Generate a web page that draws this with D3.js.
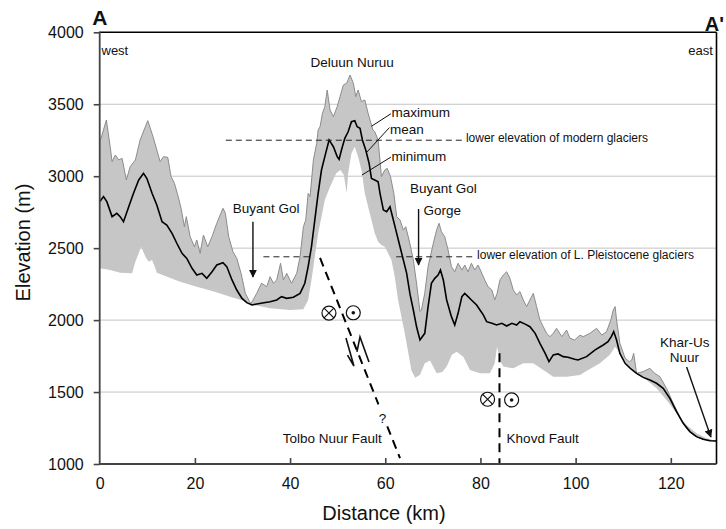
<!DOCTYPE html>
<html>
<head>
<meta charset="utf-8">
<script src="https://cdn.jsdelivr.net/npm/d3@7"></script>
<style>
  body { margin: 0; background: #fff; }
  svg text { font-family: "Liberation Sans", Arial, sans-serif; fill: #111; }
</style>
</head>
<body>
<div id="chart"></div>
<script>
// swath profile A - A' : distance (km), elevation (m)
const maxProfile = [
  [0,3252],[0.3,3265],[1.4,3390],[2.2,3205],[2.6,3101],[3.3,3147],[4.0,3113],[4.7,3124],
  [5.6,2974],[6.4,3066],[7.5,3113],[8.5,3252],[10.1,3386],[11.2,3275],[12.0,3182],[12.7,3101],
  [13.4,3136],[14.3,3131],[15.0,2997],[15.7,2951],[16.4,2869],[17.1,2777],[17.8,2649],[18.2,2719],
  [19.0,2580],[19.9,2510],[20.4,2557],[21.1,2464],[21.8,2591],[22.7,2510],[23.6,2580],[24.6,2673],
  [25.9,2777],[26.4,2742],[27.1,2580],[28.0,2475],[28.8,2429],[29.7,2325],[30.6,2186],[31.5,2128],
  [31.8,2115],[33.0,2186],[34.0,2256],[35.1,2232],[35.8,2302],[36.5,2256],[37.2,2279],[38.0,2395],
  [38.6,2279],[39.3,2325],[40.3,2256],[41.4,2325],[42.1,2441],[42.8,2649],[43.3,2696],[43.8,2881],
  [44.2,2858],[44.9,3113],[45.6,3229],[45.9,3321],[46.3,3344],[46.8,3437],[47.3,3483],[47.8,3599],
  [48.4,3460],[49.1,3414],[49.9,3483],[50.5,3553],[51.2,3634],[51.9,3646],[52.6,3703],[53.3,3646],
  [53.8,3553],[54.3,3599],[55.0,3518],[55.7,3530],[56.4,3437],[57.4,3321],[57.8,3309],[58.5,3252],
  [59.2,2997],[59.9,3043],[60.4,3055],[61.1,2997],[61.8,2881],[62.4,2719],[63.1,2696],[63.8,2626],
  [64.3,2649],[65.0,2557],[65.9,2420],[66.6,2250],[67.3,2060],[67.6,2070],[68.3,2186],[69.0,2372],
  [70.1,2534],[70.8,2626],[71.3,2673],[71.8,2614],[72.5,2580],[73.2,2487],[73.9,2372],[74.6,2336],
  [75.3,2395],[76.1,2348],[76.7,2383],[77.4,2336],[78.1,2395],[78.8,2348],[79.5,2383],[80.3,2325],
  [80.9,2279],[81.6,2232],[82.4,2209],[83.0,2140],[83.5,2186],[84.1,2279],[84.8,2313],[85.5,2336],
  [86.2,2290],[86.9,2209],[87.6,2175],[88.3,2198],[89.0,2140],[89.7,2094],[90.4,2140],[91.1,2186],
  [91.8,2094],[92.5,2001],[93.2,1954],[93.9,1908],[94.6,1885],[95.3,1908],[96.0,1943],[97.1,1885],
  [98.1,1931],[98.8,1874],[99.8,1862],[100.9,1895],[101.6,1885],[103.0,1908],[104.4,1943],[105.5,1896],
  [106.5,1920],[107.4,2001],[107.9,2070],[108.3,2094],[108.6,2001],[109.3,1839],[110.4,1735],[111.3,1711],
  [111.8,1723],[112.2,1769],[112.8,1630],[114.2,1642],[115.6,1665],[116.6,1630],[117.7,1607],[119.1,1526],
  [120.5,1422],[121.9,1329],[123.3,1248],[124.7,1202],[126.1,1179],[127.5,1167],[129.6,1160]
];
const meanProfile = [
  [0,2823],[0.8,2858],[1.5,2823],[2.6,2719],[3.6,2742],[4.3,2719],[5.0,2684],[6.1,2788],
  [7.1,2881],[8.2,2974],[9.2,3020],[9.9,2985],[11.0,2881],[12.0,2800],[13.1,2684],[14.1,2661],
  [15.2,2603],[16.2,2534],[17.3,2464],[18.3,2429],[19.4,2360],[20.4,2313],[21.5,2325],[22.5,2290],
  [23.6,2336],[24.6,2383],[25.9,2399],[26.7,2372],[27.8,2279],[28.8,2209],[29.9,2151],[30.9,2121],
  [32.0,2105],[33.0,2112],[34.5,2121],[35.8,2128],[37.2,2140],[38.2,2163],[39.3,2151],[40.7,2159],
  [42.1,2186],[43.1,2256],[43.8,2372],[44.5,2510],[45.2,2696],[45.9,2881],[46.6,3043],[47.3,3136],
  [48.2,3252],[49.1,3205],[49.9,3136],[50.3,3117],[50.8,3182],[51.5,3263],[52.2,3309],[52.9,3379],
  [53.6,3386],[54.1,3344],[54.7,3333],[55.2,3252],[55.9,3182],[56.6,3090],[57.1,2985],[57.8,2974],
  [58.5,2962],[58.9,2881],[59.6,2765],[60.3,2753],[61.0,2788],[61.7,2696],[62.4,2603],[63.1,2510],
  [63.8,2418],[64.5,2325],[65.2,2180],[65.9,2070],[66.6,1950],[67.3,1862],[68.3,1908],[69.0,2094],
  [69.7,2256],[70.4,2290],[71.1,2313],[71.6,2348],[72.2,2279],[72.9,2140],[73.9,2024],[74.6,1966],
  [75.3,2047],[76.1,2163],[76.7,2186],[77.4,2163],[78.1,2140],[79.2,2105],[79.9,2070],[80.6,2036],
  [81.3,1989],[82.4,1978],[83.4,1966],[84.5,1978],[85.5,1959],[86.6,1978],[87.6,1966],[88.3,1989],
  [89.4,1972],[90.4,1954],[91.5,1908],[92.5,1839],[93.6,1769],[94.4,1711],[95.3,1758],[96.3,1765],
  [97.4,1746],[98.4,1742],[99.8,1728],[100.5,1723],[102.3,1746],[104.1,1793],[105.8,1827],[106.8,1850],
  [107.5,1885],[108.0,1920],[108.6,1862],[109.3,1769],[110.4,1700],[111.5,1665],[112.8,1630],[114.2,1602],
  [115.6,1584],[117.0,1561],[118.4,1526],[119.8,1456],[121.2,1364],[122.6,1283],[124.0,1225],[125.4,1190],
  [126.8,1172],[128.2,1162],[129.6,1160]
];
const minProfile = [
  [0,2360],[2.2,2348],[4.3,2329],[6.8,2325],[7.5,2406],[8.2,2464],[8.7,2510],[9.6,2441],
  [10.3,2406],[11.0,2418],[11.7,2360],[12.0,2329],[16.9,2267],[20.4,2232],[24.0,2198],[27.4,2163],
  [30.3,2135],[31.8,2110],[35.8,2082],[40.0,2070],[42.8,2075],[43.8,2140],[44.5,2279],[45.2,2441],
  [45.9,2603],[46.6,2719],[47.3,2835],[48.4,2927],[49.7,3020],[50.6,3043],[51.3,3008],[51.9,2881],
  [52.2,3020],[52.9,3159],[53.6,3205],[54.3,3136],[55.0,3043],[55.7,2881],[56.4,2788],[57.1,2696],
  [57.8,2603],[58.5,2545],[59.2,2522],[59.9,2510],[60.6,2464],[61.3,2418],[62.0,2302],[62.7,2140],
  [63.4,2024],[64.1,1908],[64.8,1780],[65.5,1650],[66.3,1600],[67.3,1620],[68.3,1700],[69.4,1720],
  [70.8,1630],[72.0,1640],[72.9,1677],[74.0,1760],[75.0,1780],[76.4,1746],[77.8,1654],[79.9,1630],
  [82.0,1630],[83.0,1700],[83.5,1815],[84.1,1720],[84.8,1677],[86.9,1665],[89.0,1700],[91.1,1700],
  [93.2,1654],[95.3,1607],[98.1,1607],[100.9,1619],[103.0,1660],[105.1,1700],[107.2,1760],[108.3,1815],
  [109.3,1769],[110.7,1700],[112.8,1630],[114.9,1584],[117.0,1526],[119.1,1445],[121.2,1352],[123.3,1271],
  [125.4,1213],[127.5,1179],[129.6,1160]
];
const xTicks = [0, 20, 40, 60, 80, 100, 120];
const yTicks = [1000, 1500, 2000, 2500, 3000, 3500, 4000];
const gridElevs = [1500, 2000, 2500, 3000, 3500];

// glacier limits: elevation (m), dashed spans (km)
const modernGlacierElev = 3250;
const modernGlacierSpans = [[26.5, 76.6]];
const pleistoceneGlacierElev = 2440;
const pleistoceneGlacierSpans = [[34.4, 44.0], [62.3, 78.8]];

// faults: dashed traces [km, m]
const tolboFault = [[[46.3, 2432], [58.57, 1415]], [[60.42, 1262], [63.1, 1040]]];
const khovdFault = [[[84.0, 1770], [84.0, 1000]]];

const width = 726, height = 529;
const svg = d3.select("#chart").append("svg")
  .attr("width", width)
  .attr("height", height);

const x = d3.scaleLinear().domain([0, 129.6]).range([99.7, 716.5]);
const y = d3.scaleLinear().domain([1000, 4000]).range([464, 32.3]);

const defs = svg.append("defs");
defs.append("marker")
  .attr("id", "head")
  .attr("viewBox", "0 0 10 10")
  .attr("refX", 9).attr("refY", 5)
  .attr("markerWidth", 8).attr("markerHeight", 8)
  .attr("markerUnits", "userSpaceOnUse")
  .attr("orient", "auto")
  .append("path")
  .attr("d", "M0,0 L10,5 L0,10 Z")
  .attr("fill", "#111");

// gridlines
svg.append("g").selectAll("line")
  .data(gridElevs)
  .enter().append("line")
  .attr("x1", x(0)).attr("x2", x(129.6))
  .attr("y1", d => y(d)).attr("y2", d => y(d))
  .attr("stroke", "#c4c4c4")
  .attr("stroke-width", 1);

const line = d3.line().x(d => x(d[0])).y(d => y(d[1]));

// min-max envelope
const envelope = maxProfile.concat(minProfile.slice().reverse());
svg.append("path")
  .attr("d", line(envelope) + "Z")
  .attr("fill", "#c6c6c6");

svg.append("path")
  .attr("d", line(maxProfile))
  .attr("fill", "none")
  .attr("stroke", "#8c8c8c")
  .attr("stroke-width", 1);

svg.append("path")
  .attr("d", line(meanProfile))
  .attr("fill", "none")
  .attr("stroke", "#000")
  .attr("stroke-width", 1.6);

// glacier level dashes
function dashed(spans, elev) {
  svg.append("g").selectAll("line")
    .data(spans)
    .enter().append("line")
    .attr("x1", d => x(d[0])).attr("x2", d => x(d[1]))
    .attr("y1", y(elev)).attr("y2", y(elev))
    .attr("stroke", "#222")
    .attr("stroke-width", 1)
    .attr("stroke-dasharray", "6,4");
}
dashed(modernGlacierSpans, modernGlacierElev);
dashed(pleistoceneGlacierSpans, pleistoceneGlacierElev);

// fault traces
function fault(segs) {
  svg.append("g").selectAll("line")
    .data(segs)
    .enter().append("line")
    .attr("x1", d => x(d[0][0])).attr("y1", d => y(d[0][1]))
    .attr("x2", d => x(d[1][0])).attr("y2", d => y(d[1][1]))
    .attr("stroke", "#000")
    .attr("stroke-width", 2)
    .attr("stroke-dasharray", "9,6");
}
fault(tolboFault);
fault(khovdFault);

// axes
const yAxis = svg.append("g")
  .attr("transform", `translate(${x(0)},0)`)
  .call(d3.axisLeft(y).tickValues(yTicks).tickFormat(d3.format("d")).tickSize(6).tickPadding(10));
const xAxis = svg.append("g")
  .attr("transform", `translate(0,${y(1000)})`)
  .call(d3.axisBottom(x).tickValues(xTicks).tickFormat(d3.format("d")).tickSize(-6).tickPadding(13.6));
[yAxis, xAxis].forEach(g => {
  g.select(".domain").remove();
  g.selectAll(".tick line").attr("stroke", "#444").attr("stroke-width", 1.6);
  g.selectAll(".tick text").attr("font-size", 16).attr("fill", "#111")
    .style("font-family", '"Liberation Sans", Arial, sans-serif');
});
xAxis.select(".tick line").remove();

// frame
svg.append("line").attr("x1", x(0)).attr("x2", x(129.6)).attr("y1", y(4000)).attr("y2", y(4000))
  .attr("stroke", "#000").attr("stroke-width", 1.4);
svg.append("line").attr("x1", x(129.6)).attr("x2", x(129.6)).attr("y1", y(4000)).attr("y2", y(1000))
  .attr("stroke", "#000").attr("stroke-width", 1.6);
svg.append("line").attr("x1", x(0)).attr("x2", x(0)).attr("y1", y(4000) - 0.7).attr("y2", y(1000) + 1)
  .attr("stroke", "#444").attr("stroke-width", 1.8);
svg.append("line").attr("x1", x(0)).attr("x2", x(129.6)).attr("y1", y(1000)).attr("y2", y(1000))
  .attr("stroke", "#444").attr("stroke-width", 1.8);

// axis titles
svg.append("text")
  .attr("x", 384).attr("y", 520)
  .attr("text-anchor", "middle")
  .attr("font-size", 20)
  .text("Distance (km)");
svg.append("text")
  .attr("transform", `translate(30,242.5) rotate(-90)`)
  .attr("text-anchor", "middle")
  .attr("font-size", 20)
  .text("Elevation (m)");

// section ends
svg.append("text").attr("x", x(0) - 7.5).attr("y", 25)
  .attr("font-size", 21).attr("font-weight", "bold").text("A");
svg.append("text").attr("x", 724).attr("y", 31)
  .attr("text-anchor", "end")
  .attr("font-size", 20).attr("font-weight", "bold").text("A'");

// labels
function label(km, m, txt, size, anchor) {
  svg.append("text")
    .attr("x", x(km)).attr("y", y(m))
    .attr("font-size", size)
    .attr("text-anchor", anchor || "start")
    .text(txt);
}
label(0.38, 3842, "west", 13);
label(128.85, 3842, "east", 13, "end");
label(53.06, 3759, "Deluun Nuruu", 13.5, "middle");
label(61.3, 3408, "maximum", 13.5);
label(61.0, 3293, "mean", 13.5);
label(61.3, 3106, "minimum", 13.5);
label(76.95, 3236, "lower elevation of modern glaciers", 12);
label(79.3, 2428, "lower elevation of L. Pleistocene glaciers", 12);
label(34.95, 2744, "Buyant Gol", 13.5, "middle");
label(72.2, 2883, "Buyant Gol", 13.5, "middle");
label(72.0, 2730, "Gorge", 13.5, "middle");
label(38.45, 1146, "Tolbo Nuur Fault", 13.5);
label(85.5, 1146, "Khovd Fault", 13.5);
label(59.4, 1282, "?", 13.5, "middle");
label(122.94, 1815, "Khar-Us", 13.5, "middle");
label(122.85, 1711, "Nuur", 13.5, "middle");

// leader lines to the curves
const leaders = [
  [[61.2, 3434], [57.1, 3347]],
  [[60.88, 3338], [56.16, 3168]],
  [[61.2, 3133], [55.1, 3008]]
];
svg.append("g").selectAll("line")
  .data(leaders)
  .enter().append("line")
  .attr("x1", d => x(d[0][0])).attr("y1", d => y(d[0][1]))
  .attr("x2", d => x(d[1][0])).attr("y2", d => y(d[1][1]))
  .attr("stroke", "#111").attr("stroke-width", 1);

// arrows
const arrows = [
  [[32.2, 2684], [32.2, 2300]],
  [[67.0, 2772], [67.0, 2383]],
  [[123.32, 1674], [128.42, 1188]]
];
svg.append("g").selectAll("line")
  .data(arrows)
  .enter().append("line")
  .attr("x1", d => x(d[0][0])).attr("y1", d => y(d[0][1]))
  .attr("x2", d => x(d[1][0])).attr("y2", d => y(d[1][1]))
  .attr("stroke", "#111").attr("stroke-width", 1.4)
  .attr("marker-end", "url(#head)");

// half arrows for fault motion: start, tip, barb
const halfArrows = [
  [[51.74, 1876], [53.42, 1681], [52.06, 1757]],
  [[56.58, 1709], [54.69, 1883], [54.05, 1779]]
];
svg.append("g").selectAll("path")
  .data(halfArrows)
  .enter().append("path")
  .attr("d", d => line(d))
  .attr("fill", "none")
  .attr("stroke", "#111").attr("stroke-width", 1.6);

// strike-slip symbols: into (x) and out of (dot) the page
const intoPage = [[48.17, 2049], [81.5, 1450]];
const outOfPage = [[53.28, 2051], [86.55, 1445]];
const r = 7;
const into = svg.append("g").selectAll("g").data(intoPage).enter().append("g")
  .attr("transform", d => `translate(${x(d[0])},${y(d[1])})`);
into.append("circle").attr("r", r).attr("fill", "#fff").attr("stroke", "#111").attr("stroke-width", 1.2);
into.append("path").attr("d", `M${-r * 0.7},${-r * 0.7}L${r * 0.7},${r * 0.7}M${r * 0.7},${-r * 0.7}L${-r * 0.7},${r * 0.7}`)
  .attr("stroke", "#111").attr("stroke-width", 1.2);
const out = svg.append("g").selectAll("g").data(outOfPage).enter().append("g")
  .attr("transform", d => `translate(${x(d[0])},${y(d[1])})`);
out.append("circle").attr("r", r).attr("fill", "#fff").attr("stroke", "#111").attr("stroke-width", 1.2);
out.append("circle").attr("r", 1.8).attr("fill", "#111");
</script>
</body>
</html>
